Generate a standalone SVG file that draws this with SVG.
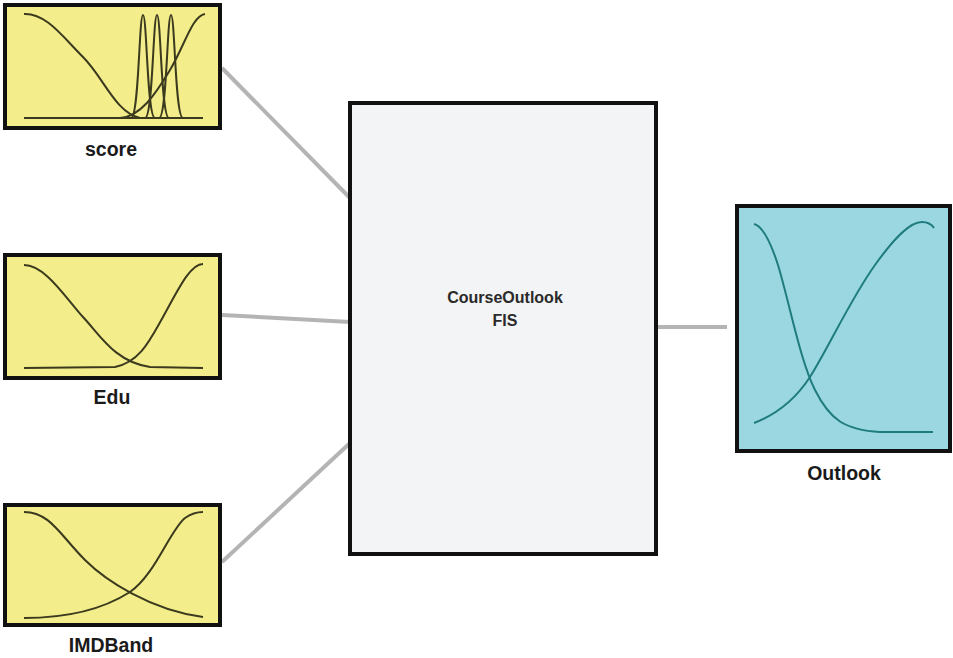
<svg xmlns="http://www.w3.org/2000/svg" width="953" height="658" viewBox="0 0 953 658">
<style>
.in{fill:#f3ee8b;stroke:#111;stroke-width:4}
.out{fill:#9bd7e1;stroke:#111;stroke-width:4}
.fis{fill:#f3f4f5;stroke:#111;stroke-width:4}
.mf{fill:none;stroke:#3b3a1e;stroke-width:2}
.mfo{fill:none;stroke:#1f7c7e;stroke-width:2}
.lbl{font-family:"Liberation Sans",Arial,sans-serif;font-weight:bold;font-size:19.5px;fill:#1a1a1a;text-anchor:middle}
.ctr{font-family:"Liberation Sans",Arial,sans-serif;font-weight:bold;font-size:16px;fill:#2a2a2a;text-anchor:middle}
.con{stroke:#b4b4b4;stroke-width:4;fill:none}
</style>
<rect width="953" height="658" fill="#ffffff"/>
<g id="connectors">
<line class="con" x1="222" y1="68" x2="350" y2="198"/>
<line class="con" x1="222" y1="315" x2="350" y2="322"/>
<line class="con" x1="222" y1="562" x2="350" y2="443"/>
<line class="con" x1="656" y1="327" x2="727" y2="327"/>
</g>
<g id="score">
<rect class="in" x="5" y="5" width="215" height="123"/>
<path class="mf" d="M24,118 L203,118"/>
<path class="mf" d="M24,14 C46,13 62,36 83,57 C104,78 115,112 140,118"/>
<path class="mf" d="M120,118 C140,117 155,95 170,70 C185,45 192,16 205,14"/>
<path class="mf" d="M131,118 C139,118 139,15 143,15 C147,15 147,118 155,118"/>
<path class="mf" d="M145,118 C153,118 153,15 157,15 C161,15 161,118 169,118"/>
<path class="mf" d="M159,118 C167,118 167,15 171,15 C175,15 175,118 183,118"/>
<text class="lbl" x="111" y="156">score</text>
</g>
<g id="edu">
<rect class="in" x="5" y="255" width="215" height="123"/>
<path class="mf" d="M24,265 C45,265 65,297 83,317 C100,335 115,362 150,367 L203,368"/>
<path class="mf" d="M24,368 L115,367 C140,362 150,340 163,317 C178,290 190,264 203,264"/>
<text class="lbl" x="112" y="404">Edu</text>
</g>
<g id="imdband">
<rect class="in" x="5" y="505" width="215" height="120"/>
<path class="mf" d="M24,512 C50,512 60,535 85,560 C105,580 150,610 203,617"/>
<path class="mf" d="M24,618 C70,618 105,608 130,592 C155,575 170,530 185,518 C192,513 198,512 203,512"/>
<text class="lbl" x="111" y="652">IMDBand</text>
</g>
<g id="fis">
<rect class="fis" x="350" y="103" width="306" height="451"/>
<text class="ctr" x="505" y="303">CourseOutlook</text>
<text class="ctr" x="505" y="326">FIS</text>
</g>
<g id="outlook">
<rect class="out" x="737" y="206" width="213" height="245"/>
<path class="mfo" d="M754,224 C762,226 770,240 778,265 C790,305 800,360 815,390 C830,420 845,430 880,432 L933,432"/>
<path class="mfo" d="M754,423 C775,415 795,400 810,377 C830,345 850,300 875,265 C895,237 910,222 922,222 C928,222 932,225 934,228"/>
<text class="lbl" x="844" y="480">Outlook</text>
</g>
</svg>
